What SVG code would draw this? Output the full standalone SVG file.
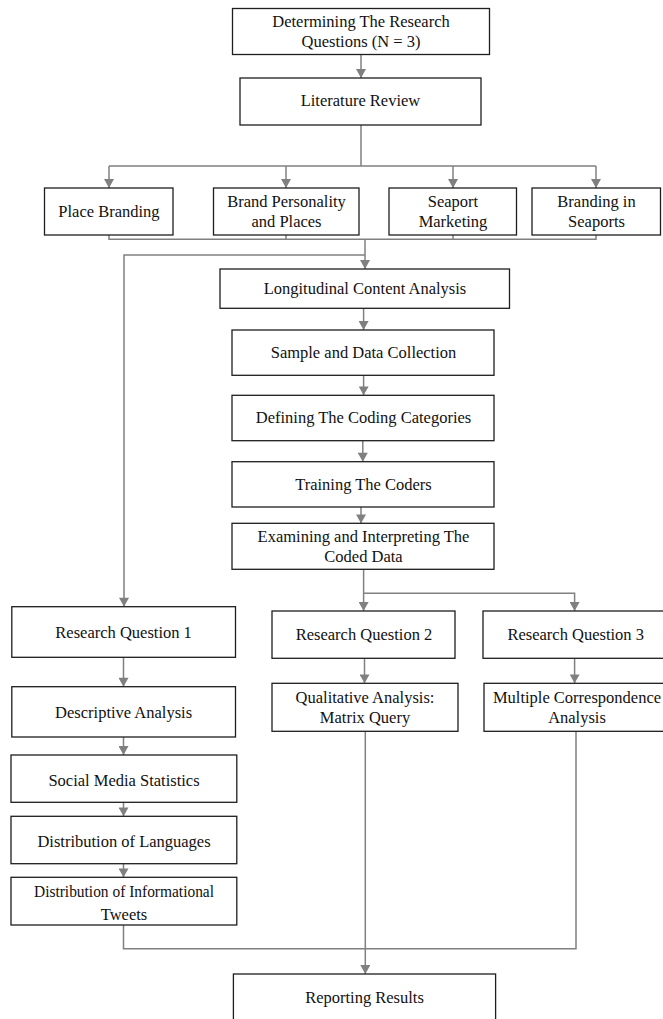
<svg xmlns="http://www.w3.org/2000/svg" width="663" height="1019" viewBox="0 0 663 1019">
<style>
.box{fill:#fff;stroke:#1e1e1e;stroke-width:1.3}
.t{font-family:'Liberation Serif',Tinos,'Times New Roman',Times,'DejaVu Serif',serif;font-size:16.5px;fill:#111;text-anchor:middle}
.c{fill:none;stroke:#808080;stroke-width:1.5}
.a{marker-end:url(#ah)}
</style>
<defs>
<marker id="ah" markerUnits="userSpaceOnUse" markerWidth="10" markerHeight="10" viewBox="0 0 8 9" refX="8" refY="4.5" orient="auto">
<path d="M0,0 L8,4.5 L0,9 z" fill="#808080"/>
</marker>
</defs>
<rect width="663" height="1019" fill="#fff"/>
<g id="connectors">
<path class="c a" d="M361,55 V78"/>
<path class="c" d="M361,125 V166 M109,166 H596"/>
<path class="c a" d="M109,166 V188"/>
<path class="c a" d="M286,166 V188"/>
<path class="c a" d="M453,166 V188"/>
<path class="c a" d="M596,166 V188"/>
<path class="c" d="M109,235 V239.3 H596 V235 M286,235 V239.3 M453,235 V239.3"/>
<path class="c a" d="M365,239.3 V269"/>
<path class="c a" d="M365,255 H124 V606.7"/>
<path class="c a" d="M363.6,308.3 V330"/>
<path class="c a" d="M363.6,375.3 V395.3"/>
<path class="c a" d="M362.8,440.7 V461.7"/>
<path class="c a" d="M361,507 V523.3"/>
<path class="c a" d="M363.6,569.3 V611"/>
<path class="c a" d="M363.6,593.3 H574.6 V611"/>
<path class="c a" d="M123.5,657.3 V686.7"/>
<path class="c a" d="M364.5,658.3 V683.3"/>
<path class="c a" d="M574.6,658.3 V683.3"/>
<path class="c a" d="M123.5,737 V755"/>
<path class="c a" d="M123.5,802.3 V816.3"/>
<path class="c a" d="M123.5,863.7 V877.3"/>
<path class="c" d="M123.5,925 V948.7 H576 V731.3"/>
<path class="c a" d="M365.3,731.3 V974"/>
</g>
<g id="n1"><rect class="box" x="232.5" y="8.5" width="257" height="46"/><text class="t" x="361" y="27">Determining The Research</text><text class="t" x="361" y="47">Questions (N = 3)</text></g>
<g id="n2"><rect class="box" x="240" y="78" width="241" height="47"/><text class="t" x="360.5" y="106">Literature Review</text></g>
<g id="n3"><rect class="box" x="44.5" y="188" width="128.5" height="47"/><text class="t" x="109" y="216.7">Place Branding</text></g>
<g id="n4"><rect class="box" x="213.5" y="188" width="145.5" height="47"/><text class="t" x="286.5" y="207">Brand Personality</text><text class="t" x="286.5" y="227">and Places</text></g>
<g id="n5"><rect class="box" x="389" y="188" width="127.5" height="47"/><text class="t" x="453" y="207">Seaport</text><text class="t" x="453" y="227">Marketing</text></g>
<g id="n6"><rect class="box" x="532" y="188" width="128.5" height="47"/><text class="t" x="596.5" y="207">Branding in</text><text class="t" x="596.5" y="227">Seaports</text></g>
<g id="n7"><rect class="box" x="220" y="269" width="289.5" height="39.3"/><text class="t" x="365" y="294">Longitudinal Content Analysis</text></g>
<g id="n8"><rect class="box" x="232" y="330" width="262" height="45.3"/><text class="t" x="363.5" y="357.7">Sample and Data Collection</text></g>
<g id="n9"><rect class="box" x="232" y="395.3" width="262" height="45.4"/><text class="t" x="363.5" y="423">Defining The Coding Categories</text></g>
<g id="n10"><rect class="box" x="232" y="461.7" width="262" height="45.3"/><text class="t" x="363.5" y="489.5">Training The Coders</text></g>
<g id="n11"><rect class="box" x="232" y="523.3" width="262" height="46"/><text class="t" x="363.5" y="542">Examining and Interpreting The</text><text class="t" x="363.5" y="562">Coded Data</text></g>
<g id="n12"><rect class="box" x="11.8" y="606.7" width="223.7" height="50.6"/><text class="t" x="123.6" y="638">Research Question 1</text></g>
<g id="n13"><rect class="box" x="272" y="611" width="183" height="47.3"/><text class="t" x="364" y="640">Research Question 2</text></g>
<g id="n14"><rect class="box" x="483" y="611" width="190" height="47.3"/><text class="t" x="575.7" y="640">Research Question 3</text></g>
<g id="n15"><rect class="box" x="272" y="683.3" width="186" height="48"/><text class="t" x="365" y="703">Qualitative Analysis:</text><text class="t" x="365" y="723">Matrix Query</text></g>
<g id="n16"><rect class="box" x="484" y="683.3" width="190" height="48"/><text class="t" x="577" y="703">Multiple Correspondence</text><text class="t" x="577" y="723">Analysis</text></g>
<g id="n17"><rect class="box" x="11.8" y="686.7" width="223.7" height="50.3"/><text class="t" x="123.6" y="718">Descriptive Analysis</text></g>
<g id="n18"><rect class="box" x="11" y="755" width="225.8" height="47.3"/><text class="t" x="124" y="785.5">Social Media Statistics</text></g>
<g id="n19"><rect class="box" x="11" y="816.3" width="225.8" height="47.4"/><text class="t" x="124" y="847">Distribution of Languages</text></g>
<g id="n20"><rect class="box" x="11" y="877.3" width="225.8" height="47.7"/><text class="t" x="124" y="897" textLength="180" lengthAdjust="spacingAndGlyphs">Distribution of Informational</text><text class="t" x="124" y="920">Tweets</text></g>
<g id="n21"><rect class="box" x="233.4" y="974" width="262.2" height="60"/><text class="t" x="364.5" y="1003">Reporting Results</text></g>
</svg>
